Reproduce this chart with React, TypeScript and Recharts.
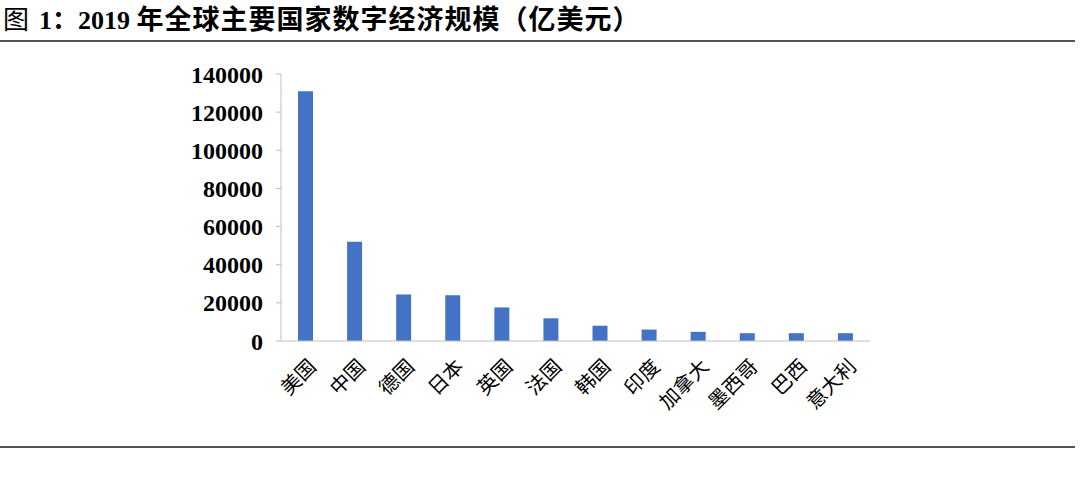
import { BarChart, Bar, XAxis, YAxis } from "recharts";

const countries = ["美国", "中国", "德国", "日本", "英国", "法国", "韩国", "印度", "加拿大", "墨西哥", "巴西", "意大利"];
const values = [130900, 52000, 24400, 24000, 17600, 11900, 8000, 6000, 4800, 4100, 4100, 4100];
const yTicks = [0, 20000, 40000, 60000, 80000, 100000, 120000, 140000];

const data = countries.map((name, i) => ({ name, value: values[i] }));

const serif = "'Liberation Serif', 'Noto Sans CJK SC', serif";

type TickProps = {
  x?: number;
  y?: number;
  payload?: { value?: string | number };
};

function CountryTick({ x = 0, y = 0, payload }: TickProps) {
  return (
    <text
      x={0}
      y={0}
      transform={`translate(${x + 7},${y + 14}) rotate(-45)`}
      textAnchor="end"
      dy="0.35em"
      fontFamily={serif}
      fontSize={20}
      fill="#000"
    >
      {payload?.value}
    </text>
  );
}

export default function App() {
  return (
    <div style={{ position: "absolute", left: 0, top: 0, width: 1080, height: 489, background: "#fff" }}>
      <div
        style={{
          position: "absolute",
          left: 3,
          top: 4,
          fontFamily: serif,
          fontWeight: "bold",
          fontSize: 26,
          lineHeight: "32px",
          color: "#000",
          whiteSpace: "pre",
        }}
      >
        <span style={{ fontWeight: "normal", marginRight: 10 }}>图</span>
        {"1："}
        {"2019 "}
        <span style={{ fontSize: 27, letterSpacing: 1 }}>年全球主要国家数字经济规模（亿美元）</span>
      </div>
      <div style={{ position: "absolute", left: 0, top: 40, width: 1075, height: 2, background: "#555" }} />
      <div style={{ position: "absolute", left: 0, top: 446, width: 1075, height: 1.5, background: "#555" }} />
      <div style={{ position: "absolute", left: 0, top: 0 }}>
        <BarChart width={1080} height={489} data={data} margin={{ top: 74, right: 210, bottom: 48, left: 181 }}>
          <YAxis
            width={100}
            domain={[0, 140000]}
            ticks={yTicks}
            interval={0}
            axisLine={{ stroke: "#bfbfbf" }}
            tickLine={{ stroke: "#bfbfbf" }}
            tickSize={5}
            tickMargin={13}
            tick={{ fontFamily: serif, fontSize: 24, fontWeight: "bold", fill: "#000" }}
          />
          <XAxis
            dataKey="name"
            height={100}
            interval={0}
            axisLine={{ stroke: "#bfbfbf" }}
            tickLine={false}
            tick={<CountryTick />}
          />
          <Bar dataKey="value" fill="#4472c4" barSize={15} isAnimationActive={false} />
        </BarChart>
      </div>
    </div>
  );
}
